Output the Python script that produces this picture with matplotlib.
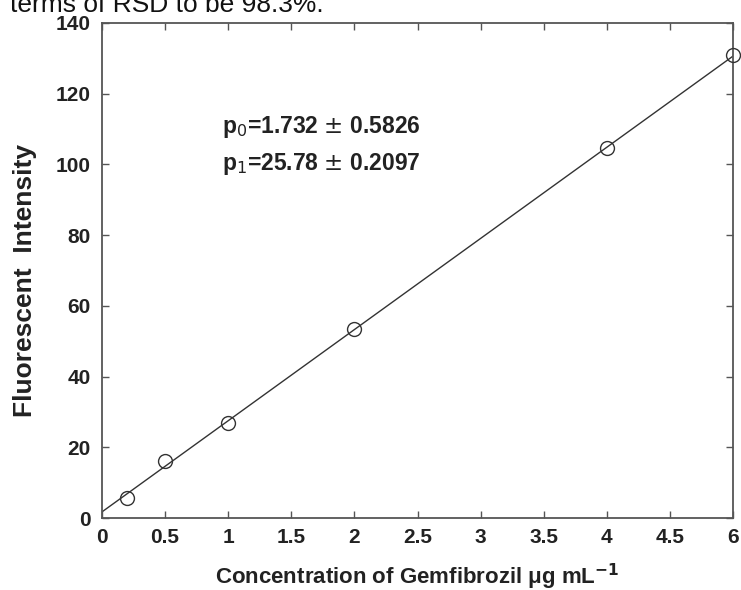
import matplotlib
matplotlib.use("Agg")
import matplotlib.pyplot as plt
import numpy as np

plt.rcParams['font.family'] = ['Liberation Sans', 'DejaVu Sans']

# Data
conc = [0.2, 0.5, 1, 2, 4, 5]
intensity = [5.7, 16.1, 26.9, 53.4, 104.6, 130.9]
p0 = 1.732
p1 = 25.78
xticks = [0, 0.5, 1, 1.5, 2, 2.5, 3, 3.5, 4, 4.5, 5]
xticklabels = ["0", "0.5", "1", "1.5", "2", "2.5", "3", "3.5", "4", "4.5", "6"]
yticks = [0, 20, 40, 60, 80, 100, 120, 140]

fig = plt.figure(figsize=(7.41, 5.90), dpi=100)
ax = fig.add_axes([102/741, 72/590, 631/741, 495/590])

xfit = np.array([0, 5.0])
ax.plot(xfit, p0 + p1 * xfit, color='#333333', lw=1.0, zorder=2)
ax.plot(conc, intensity, 'o', ms=10, mfc='none', mec='#333333', mew=1.0, zorder=3, clip_on=False)

ax.set_xlim(0, 5)
ax.set_ylim(0, 140)
ax.set_xticks(xticks)
ax.set_xticklabels(xticklabels)
ax.set_yticks(yticks)
ax.tick_params(direction='in', top=True, right=True, length=5, width=1, color='#555555',
               labelsize=15)
ax.tick_params(axis='x', pad=7.5)
ax.tick_params(axis='y', pad=8)
for lab in ax.get_xticklabels() + ax.get_yticklabels():
    lab.set_fontweight('bold')
    lab.set_color('#222222')
for s in ax.spines.values():
    s.set_color('#555555')
    s.set_linewidth(1.3)

ax.set_xlabel(r"Concentration of Gemfibrozil μg mL$^{\mathbf{-1}}$", fontsize=16,
              fontweight='bold', color='#222222', labelpad=10)
ax.set_ylabel("Fluorescent  Intensity", fontsize=19, fontweight='bold', color='#222222')
ax.yaxis.set_label_coords(-0.103, 0.479)

ax.text(0.95, 110.5, r"p$_0$=1.732 $\pm$ 0.5826", fontsize=16.5, fontweight='bold',
        color='#222222', va='center', ha='left')
ax.text(0.95, 100.2, r"p$_1$=25.78 $\pm$ 0.2097", fontsize=16.5, fontweight='bold',
        color='#222222', va='center', ha='left')

fig.text(10/741, 1.0 + 7/590, "terms of RSD to be 98.3%.", fontsize=19, color='#111111',
         va='top', ha='left')

fig.savefig("out.png", dpi=100)
